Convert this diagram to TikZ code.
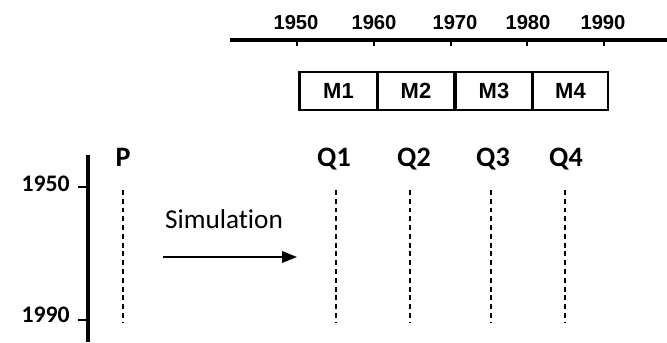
\documentclass[tikz,border=0pt]{standalone}
\usepackage{fontspec}
\setmainfont{Carlito}[Ligatures=NoCommon]
\newfontfamily\arialfont{Liberation Sans}
\usetikzlibrary{arrows.meta}

\begin{document}
\begin{tikzpicture}[x=0.02cm, y=-0.02cm,
			year/.style={font=\arialfont\bfseries\fontsize{11.5}{13}\selectfont, inner sep=0pt},
			period/.style={draw, line width=1.6pt, minimum width=1.55cm, minimum height=0.76cm, inner sep=0pt, font=\arialfont\bfseries\fontsize{12.5}{14}\selectfont},
			lab/.style={font=\bfseries\fontsize{16}{18}\selectfont, inner sep=0pt},
			sideyear/.style={font=\bfseries\fontsize{13.5}{16}\selectfont, inner sep=0pt, anchor=east},
			axis/.style={line width=1.8pt},
			tick/.style={line width=1.1pt},
			run/.style={dash pattern=on 2.8pt off 2.2pt, line width=0.9pt},
			arrow/.style={-{Triangle[length=8.5pt, width=6.5pt]}, line width=0.9pt}
			]
			\useasboundingbox (0,0) rectangle (667,342);
			% calendar axis
			\coordinate (axL) at (230,40);
			\coordinate (axR) at (667,40);
			\draw[axis] (axL) -- (axR);
			\draw[tick] (297,40) -- (297,46);
			\draw[tick] (374,40) -- (374,46);
			\draw[tick] (451,40) -- (451,46);
			\draw[tick] (527,40) -- (527,46);
			\draw[tick] (604,40) -- (604,46);
			\node[year] (y50) at (296,23) {1950};
			\node[year] (y60) at (374,23) {1960};
			\node[year] (y70) at (455,23) {1970};
			\node[year] (y80) at (528,23) {1980};
			\node[year] (y90) at (603,23) {1990};
			% periods
			\node[period] (m1) at (338.5,91) {M1};
			\node[period] (m2) at (416,91) {M2};
			\node[period] (m3) at (494,91) {M3};
			\node[period, minimum width=1.5cm] (m4) at (570.5,91) {M4};
			% simulation time axis
			\coordinate (vtop) at (88,155);
			\coordinate (vbot) at (88,342);
			\draw[axis] (vtop) -- (vbot);
			\draw[tick] (78,187) -- (88,187);
			\draw[tick] (78,320) -- (88,320);
			\node[sideyear] (s50) at (70,184) {1950};
			\node[sideyear] (s90) at (70,315) {1990};
			% runs
			\node[lab] (p) at (123,157) {P};
			\node[lab] (q1) at (334,159) {Q1};
			\node[lab] (q2) at (414,159) {Q2};
			\node[lab] (q3) at (493,159) {Q3};
			\node[lab] (q4) at (566,159) {Q4};
			\coordinate (pA) at (123,190);  \coordinate (pB) at (123,322);
			\coordinate (q1A) at (336,190); \coordinate (q1B) at (336,322);
			\coordinate (q2A) at (410,190); \coordinate (q2B) at (410,322);
			\coordinate (q3A) at (491,190); \coordinate (q3B) at (491,322);
			\coordinate (q4A) at (565,190); \coordinate (q4B) at (565,322);
			\draw[run] (pA) -- (pB);
			\draw[run] (q1A) -- (q1B);
			\draw[run] (q2A) -- (q2B);
			\draw[run] (q3A) -- (q3B);
			\draw[run] (q4A) -- (q4B);
			% simulation arrow
			\node[font=\fontsize{15.5}{18}\selectfont, inner sep=0pt] (sim) at (224,219) {Simulation};
			\coordinate (simL) at (163,257);
			\coordinate (simR) at (297,257);
			\draw[arrow] (simL) -- (simR);
		\end{tikzpicture}
\end{document}
